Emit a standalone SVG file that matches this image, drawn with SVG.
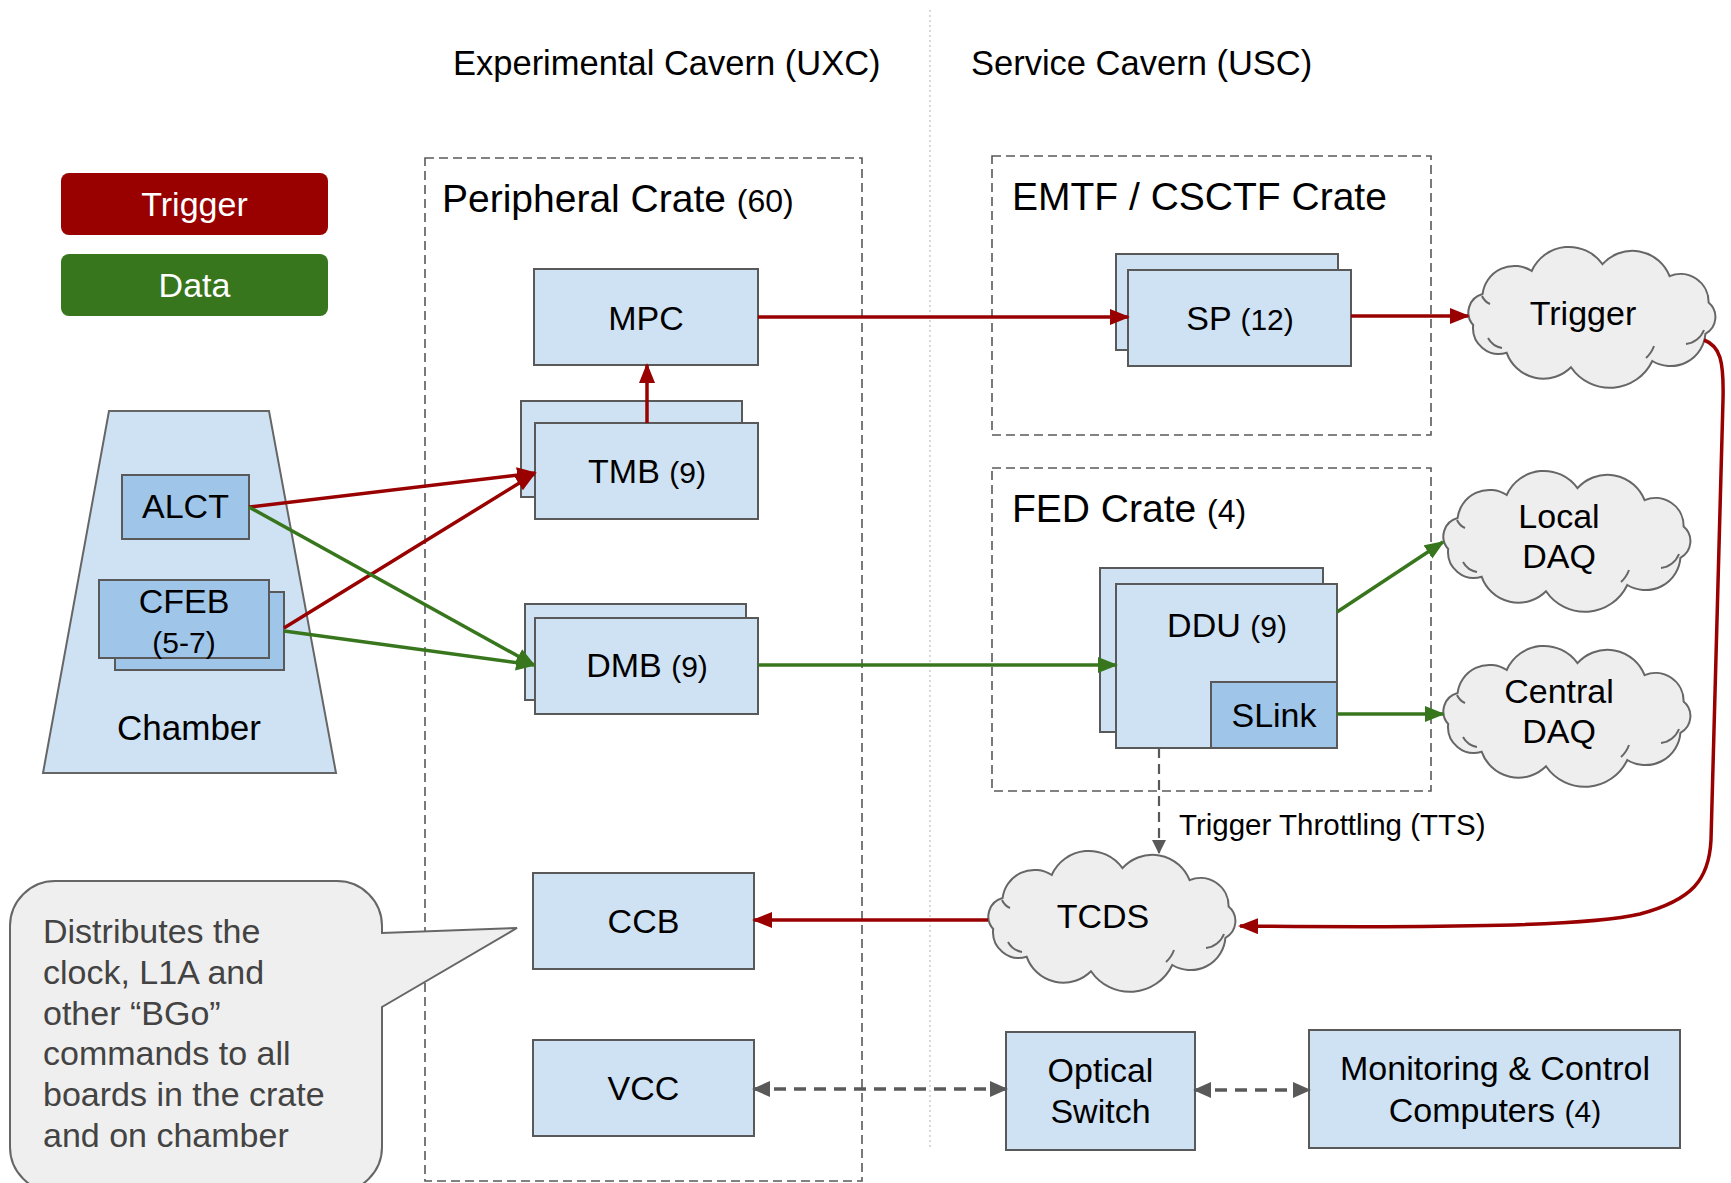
<svg xmlns="http://www.w3.org/2000/svg" xmlns:xlink="http://www.w3.org/1999/xlink" width="1731" height="1183" viewBox="0 0 1731 1183">
<style>
text{font-family:"Liberation Sans",Arial,sans-serif;fill:#000}
.lbl{font-size:34px;text-anchor:middle}
.sm{font-size:30px}
.title{font-size:34.5px}
.crt{font-size:39px}
.crs{font-size:32px}
.box{fill:#cfe2f3;stroke:#595959;stroke-width:2}
.dbox{fill:#9fc5e8;stroke:#595959;stroke-width:2}
.crate{fill:none;stroke:#595959;stroke-width:1.6;stroke-dasharray:9 5}
.cloud{fill:#eeeeee;stroke:#666;stroke-width:2}
.hook{fill:none;stroke:#666;stroke-width:2}
.red{fill:none;stroke:#990000;stroke-width:3.5;marker-end:url(#ar)}
.grn{fill:none;stroke:#38761d;stroke-width:3.5;marker-end:url(#ag)}
.gry{fill:none;stroke:#595959;stroke-width:3.5;stroke-dasharray:12 8;marker-end:url(#ak)}
.gry2{marker-start:url(#aks)}
.tts{fill:none;stroke:#595959;stroke-width:2.2;stroke-dasharray:10 6;marker-end:url(#at)}
.bub{font-size:34px;fill:#434343}
</style>
<defs>
<marker id="ar" markerUnits="userSpaceOnUse" markerWidth="20" markerHeight="16" refX="18" refY="8" orient="auto"><path d="M0,0 L20,8 L0,16 z" fill="#990000"/></marker>
<marker id="ag" markerUnits="userSpaceOnUse" markerWidth="20" markerHeight="16" refX="18" refY="8" orient="auto"><path d="M0,0 L20,8 L0,16 z" fill="#38761d"/></marker>
<marker id="ak" markerUnits="userSpaceOnUse" markerWidth="18" markerHeight="16" refX="16" refY="8" orient="auto"><path d="M0,0 L18,8 L0,16 z" fill="#595959"/></marker>
<marker id="aks" markerUnits="userSpaceOnUse" markerWidth="18" markerHeight="16" refX="2" refY="8" orient="auto"><path d="M18,0 L0,8 L18,16 z" fill="#595959"/></marker>
<marker id="at" markerUnits="userSpaceOnUse" markerWidth="14" markerHeight="14" refX="13" refY="7" orient="auto"><path d="M0,0 L14,7 L0,14 z" fill="#595959"/></marker>
<g id="cloud">
<path class="cloud" d="M5.2 77 A19 19 0 0 1 14.6 46 A32 32 0 0 1 63.7 23 A41 41 0 0 1 134.5 16.2 A40 40 0 0 1 201.6 28.2 A28 28 0 0 1 240.6 54.5 A19 19 0 0 1 237.4 85.8 A35 35 0 0 1 184.3 113 A47 47 0 0 1 103 119.2 A39 39 0 0 1 38.7 104.8 A26 26 0 0 1 5.2 77 Z"/>
<path class="hook" d="M218 96 A22 22 0 0 0 236 82"/>
<path class="hook" d="M20 90 A20 20 0 0 0 34 100"/>
<path class="hook" d="M178 110 A30 30 0 0 0 186 98"/>
<path class="hook" d="M14 48 A16 16 0 0 0 22 56"/>
</g>
</defs>
<rect width="1731" height="1183" fill="#fff"/>

<line x1="930" y1="10" x2="930" y2="1147" stroke="#cccccc" stroke-width="1.5" stroke-dasharray="2 3"/>

<g id="titles">
<text class="title" x="453" y="75">Experimental Cavern (UXC)</text>
<text class="title" x="971" y="75">Service Cavern (USC)</text>
</g>

<g id="legend-trigger">
<rect x="61" y="173" width="267" height="62" rx="8" fill="#990000"/>
<text class="lbl" x="194.5" y="216" style="fill:#fff">Trigger</text>
</g>
<g id="legend-data">
<rect x="61" y="254" width="267" height="62" rx="8" fill="#38761d"/>
<text class="lbl" x="194.5" y="297" style="fill:#fff">Data</text>
</g>

<g id="peripheral-crate">
<rect class="crate" x="425" y="158" width="437" height="1023"/>
<text class="crt" x="442" y="212">Peripheral Crate <tspan class="crs">(60)</tspan></text>
</g>
<g id="emtf-crate">
<rect class="crate" x="992" y="156" width="439" height="279"/>
<text class="crt" x="1012" y="210">EMTF / CSCTF Crate</text>
</g>
<g id="fed-crate">
<rect class="crate" x="992" y="468" width="439" height="323"/>
<text class="crt" x="1012" y="522">FED Crate <tspan class="crs">(4)</tspan></text>
</g>

<g id="chamber">
<polygon points="109,411 269,411 336,773 43,773" fill="#cfe2f3" stroke="#666" stroke-width="2"/>
<text class="lbl" x="189" y="740" style="font-size:35px">Chamber</text>
</g>
<g id="alct">
<rect class="dbox" x="122" y="475" width="127" height="64"/>
<text class="lbl" x="185.5" y="518">ALCT</text>
</g>
<g id="cfeb">
<rect class="dbox" x="115" y="592" width="169" height="78"/>
<rect class="dbox" x="99" y="580" width="170" height="78"/>
<text class="lbl" x="184" y="613">CFEB</text>
<text class="lbl sm" x="184" y="653">(5-7)</text>
</g>

<g id="mpc">
<rect class="box" x="534" y="269" width="224" height="96"/>
<text class="lbl" x="646" y="330">MPC</text>
</g>
<g id="tmb">
<rect class="box" x="521" y="401" width="221" height="96"/>
<rect class="box" x="535" y="423" width="223" height="96"/>
<text class="lbl" x="647" y="483">TMB <tspan class="sm">(9)</tspan></text>
</g>
<g id="dmb">
<rect class="box" x="525" y="604" width="221" height="96"/>
<rect class="box" x="535" y="618" width="223" height="96"/>
<text class="lbl" x="647" y="677">DMB <tspan class="sm">(9)</tspan></text>
</g>
<g id="ccb">
<rect class="box" x="533" y="873" width="221" height="96"/>
<text class="lbl" x="643.5" y="933">CCB</text>
</g>
<g id="vcc">
<rect class="box" x="533" y="1040" width="221" height="96"/>
<text class="lbl" x="643.5" y="1100">VCC</text>
</g>

<g id="sp">
<rect class="box" x="1116" y="254" width="222" height="96"/>
<rect class="box" x="1128" y="270" width="223" height="96"/>
<text class="lbl" x="1240" y="330">SP <tspan class="sm">(12)</tspan></text>
</g>
<g id="ddu">
<rect class="box" x="1100" y="568" width="223" height="164"/>
<rect class="box" x="1116" y="584" width="221" height="164"/>
<text class="lbl" x="1227" y="637">DDU <tspan class="sm">(9)</tspan></text>
</g>
<g id="slink">
<rect class="dbox" x="1211" y="682" width="126" height="66"/>
<text class="lbl" x="1274" y="727">SLink</text>
</g>

<g id="trigger-cloud">
<use xlink:href="#cloud" transform="translate(1468,248)"/>
<text class="lbl" x="1583" y="325">Trigger</text>
</g>
<g id="local-daq">
<use xlink:href="#cloud" transform="translate(1443,472)"/>
<text class="lbl" x="1559" y="528">Local</text>
<text class="lbl" x="1559" y="568">DAQ</text>
</g>
<g id="central-daq">
<use xlink:href="#cloud" transform="translate(1443,647)"/>
<text class="lbl" x="1559" y="703">Central</text>
<text class="lbl" x="1559" y="743">DAQ</text>
</g>
<g id="tcds">
<use xlink:href="#cloud" transform="translate(988,852)"/>
<text class="lbl" x="1103" y="928">TCDS</text>
</g>

<g id="optical-switch">
<rect class="box" x="1006" y="1032" width="189" height="118"/>
<text class="lbl" x="1100.5" y="1082">Optical</text>
<text class="lbl" x="1100.5" y="1123">Switch</text>
</g>
<g id="monitoring">
<rect class="box" x="1309" y="1030" width="371" height="118"/>
<text class="lbl" x="1495" y="1080">Monitoring &amp; Control</text>
<text class="lbl" x="1495" y="1122">Computers <tspan class="sm">(4)</tspan></text>
</g>

<g id="callout">
<path d="M55 881 H337 A45 45 0 0 1 382 926 V933 L517 928 L382 1007 V1147 A45 45 0 0 1 337 1192 H55 A45 45 0 0 1 10 1147 V926 A45 45 0 0 1 55 881 Z" fill="#efefef" stroke="#666" stroke-width="2"/>
<text class="bub" x="43" y="943">Distributes the</text>
<text class="bub" x="43" y="984">clock, L1A and</text>
<text class="bub" x="43" y="1025">other “BGo”</text>
<text class="bub" x="43" y="1065">commands to all</text>
<text class="bub" x="43" y="1106">boards in the crate</text>
<text class="bub" x="43" y="1147">and on chamber</text>
</g>

<g id="connectors">
<line class="red" x1="647" y1="423" x2="647" y2="365"/>
<line class="red" x1="758" y1="317" x2="1128" y2="317"/>
<line class="red" x1="1351" y1="316" x2="1468" y2="316"/>
<line class="red" x1="249" y1="507" x2="535" y2="473"/>
<line class="red" x1="284" y1="628" x2="534" y2="474"/>
<line class="grn" x1="249" y1="507" x2="534" y2="665"/>
<line class="grn" x1="284" y1="631" x2="534" y2="665"/>
<line class="grn" x1="758" y1="665" x2="1116" y2="665"/>
<line class="grn" x1="1337" y1="612" x2="1443" y2="542"/>
<line class="grn" x1="1337" y1="714" x2="1443" y2="714"/>
<line class="red" x1="988" y1="920" x2="754" y2="920"/>
<path class="red" d="M1704 340 C1720 346 1724 360 1723 400 L1711 840 C1709 880 1692 900 1640 914 C1590 926 1450 928 1240 926"/>
<line class="tts" x1="1159" y1="748" x2="1159" y2="853"/>
<text x="1179" y="835" style="font-size:29.5px">Trigger Throttling (TTS)</text>
<line class="gry gry2" x1="754" y1="1089" x2="1006" y2="1089"/>
<line class="gry gry2" x1="1195" y1="1090" x2="1309" y2="1090"/>
</g>
</svg>
